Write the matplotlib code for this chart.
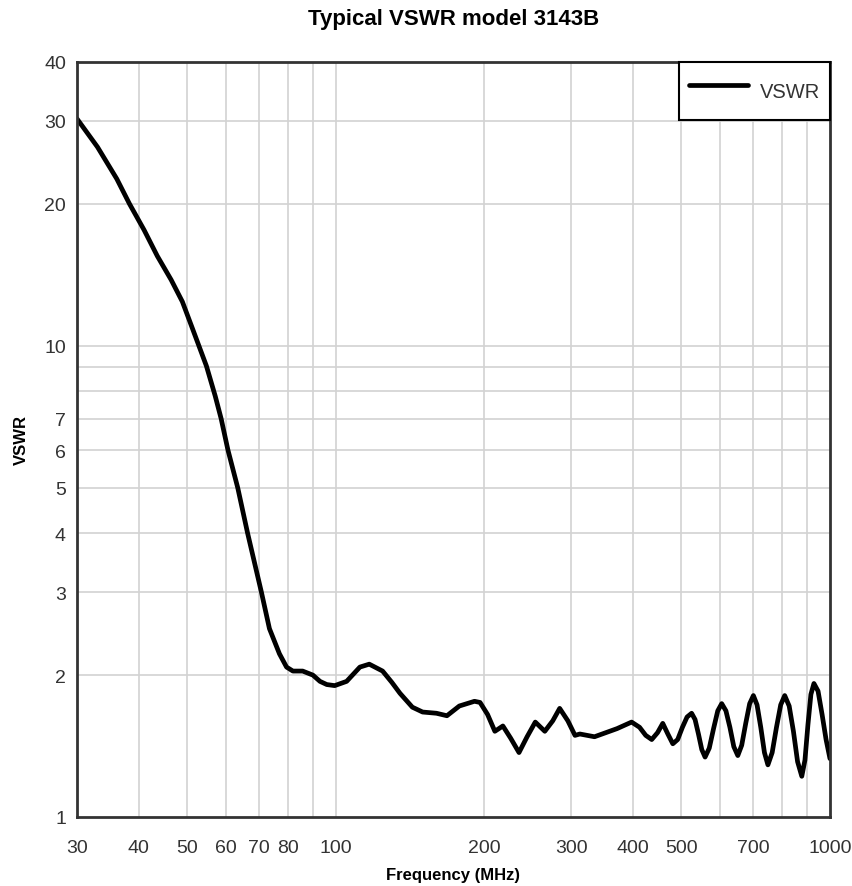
import matplotlib.pyplot as plt
from matplotlib.ticker import FixedLocator, NullFormatter

# frequency (MHz) and VSWR
freq = [30, 33, 36.1, 38.3, 41, 43.6, 46.5, 49.0, 51.4, 54.8, 57.1, 58.7, 60.6,
        63.4, 66.4, 70.8, 73.5, 77, 79.6, 82, 85.8, 90, 93, 96, 99.6, 105.3,
        112, 117, 124.5, 130, 135, 143, 150, 160, 168, 178, 191, 196, 203,
        210, 218, 226, 235, 244, 253.5, 265, 275, 284, 295, 305, 312, 334,
        371, 397, 412, 424, 436, 448, 459, 470, 481,
        492, 503, 514, 525, 533.5, 542, 550.5, 559, 570, 581.5, 593, 604,
        616, 627.5, 639, 651, 663, 675.5, 688, 700, 712, 724.5, 737, 749,
        764, 779.5, 795, 810, 827, 843.5, 860, 877, 890, 902.5, 915, 928,
        946, 964, 982, 1000]
vswr = [30.3, 26.4, 22.6, 20.0, 17.6, 15.5, 13.8, 12.4, 10.85, 9.06, 7.82, 7.0, 6.0,
        5.0, 4.0, 3.0, 2.51, 2.22, 2.08, 2.04, 2.04, 2.0, 1.94, 1.91, 1.90, 1.94,
        2.08, 2.11, 2.04, 1.93, 1.83, 1.71, 1.67, 1.66, 1.64, 1.72, 1.76, 1.75, 1.65,
        1.52, 1.56, 1.47, 1.37, 1.48, 1.59, 1.52, 1.60, 1.70, 1.60, 1.49, 1.50, 1.48,
        1.54, 1.59, 1.55, 1.49, 1.46, 1.51, 1.58, 1.50, 1.43,
        1.46, 1.55, 1.63, 1.66, 1.61, 1.50, 1.39, 1.34, 1.40, 1.54, 1.68, 1.74,
        1.68, 1.55, 1.41, 1.35, 1.42, 1.58, 1.74, 1.81, 1.73, 1.55, 1.37, 1.29,
        1.37, 1.55, 1.73, 1.81, 1.72, 1.52, 1.31, 1.22, 1.32, 1.57, 1.82, 1.92,
        1.85, 1.65, 1.46, 1.33]

xticks = [30, 40, 50, 60, 70, 80, 100, 200, 300, 400, 500, 700, 1000]
xgrid = [40, 50, 60, 70, 80, 90, 100, 200, 300, 400, 500, 600, 700, 800, 900]
yticks = [1, 2, 3, 4, 5, 6, 7, 10, 20, 30, 40]
ygrid = [2, 3, 4, 5, 6, 7, 8, 9, 10, 20, 30]

plt.rcParams['font.family'] = ['Liberation Sans', 'DejaVu Sans']

fig = plt.figure(figsize=(8.53, 8.87), dpi=100)
ax = fig.add_axes([0.0903, 0.0778, 0.8827, 0.8512])

ax.set_xscale('log')
ax.set_yscale('log')
ax.set_xlim(30, 1000)
ax.set_ylim(1, 40)

# grid lines drawn by hand so 8 and 9 get lines but no labels
for g in xgrid:
    ax.axvline(g, color='#d2d2d2', lw=1.2, zorder=1)
for g in ygrid:
    ax.axhline(g, color='#d2d2d2', lw=1.2, zorder=1)

ax.plot(freq, vswr, color='black', lw=3.4, label='VSWR', zorder=3,
        solid_joinstyle='round', solid_capstyle='round')

ax.xaxis.set_major_locator(FixedLocator(xticks))
ax.xaxis.set_minor_locator(FixedLocator([]))
ax.set_xticklabels([str(t) for t in xticks])
ax.yaxis.set_major_locator(FixedLocator(yticks))
ax.yaxis.set_minor_locator(FixedLocator([]))
ax.set_yticklabels([str(t) for t in yticks])
ax.xaxis.set_minor_formatter(NullFormatter())
ax.yaxis.set_minor_formatter(NullFormatter())
ax.tick_params(length=0, labelsize=14, colors='#333333')
ax.tick_params(axis='x', pad=16)
ax.tick_params(axis='y', pad=8)

for s in ax.spines.values():
    s.set_color('#333333')
    s.set_linewidth(2)
    s.set_zorder(4)

ax.set_title('Typical VSWR model 3143B', fontsize=16, fontweight='bold', pad=27)
ax.set_xlabel('Frequency (MHz)', fontsize=12, fontweight='bold', labelpad=8)
ax.set_ylabel('VSWR', fontsize=12, fontweight='bold', labelpad=11)

leg = ax.legend(loc='upper right', borderaxespad=0, fancybox=False,
                fontsize=14.5, handlelength=2.9, handletextpad=0.6,
                handleheight=2.5, borderpad=0.5, framealpha=1)
leg.get_frame().set_edgecolor('black')
leg.get_frame().set_linewidth(1.5)
for t in leg.get_texts():
    t.set_color('#333333')

fig.savefig('out.png', dpi=100)
